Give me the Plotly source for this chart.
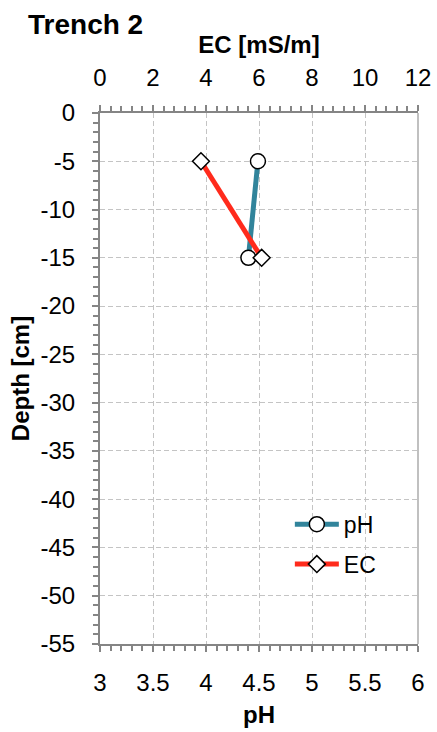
import plotly.graph_objects as go

depth = [-5, -15]
ph = [4.49, 4.40]
ec = [3.81, 6.10]

ph_ticks = [3, 3.5, 4, 4.5, 5, 5.5, 6]
ec_ticks = [0, 2, 4, 6, 8, 10, 12]
depth_ticks = list(range(0, -60, -5))

FONT = "Liberation Sans, Arial, sans-serif"
AX = "#858585"
GRID = "#c4c4c4"

fig = go.Figure()
fig.add_trace(go.Scatter(
    x=ph, y=depth, name="pH", mode="lines+markers", xaxis="x", yaxis="y",
    line=dict(color="#31849B", width=5),
    marker=dict(symbol="circle", size=15, color="white", line=dict(color="black", width=1.5)),
    legendgroup="a",
))
fig.add_trace(go.Scatter(
    x=ec, y=depth, name="EC", mode="lines+markers", xaxis="x2", yaxis="y",
    line=dict(color="#FF2B1C", width=5),
    marker=dict(symbol="diamond", size=13, color="white", line=dict(color="black", width=1.5)),
    legendgroup="b",
))

tick_font = dict(size=24, family=FONT, color="black")
title_font = dict(size=24, family=FONT, color="black")

fig.update_layout(
    width=437, height=732,
    margin=dict(l=100, r=19, t=113, b=88),
    paper_bgcolor="white", plot_bgcolor="white",
    font=dict(family=FONT, size=23, color="black"),
    title=dict(text="<b>Trench 2</b>", x=28/437, xanchor="left", xref="container",
               y=1-24/732, yanchor="middle", yref="container",
               font=dict(size=28, family=FONT, color="black")),
    xaxis=dict(
        range=[3, 6], tickvals=ph_ticks, ticktext=[str(v) for v in ph_ticks],
        showline=True, linecolor=AX, linewidth=2, automargin=False,
        ticks="outside", ticklen=6, tickcolor=AX, tickwidth=2, tickfont=tick_font,
        minor=dict(dtick=0.1, ticks="outside", ticklen=5, tickcolor=AX, tickwidth=2, showgrid=False),
        showgrid=True, gridcolor=GRID, griddash="5px,3px", gridwidth=1,
        zeroline=False, ticklabelstandoff=10,
        title=dict(text="<b>pH</b>", font=title_font, standoff=11),
    ),
    xaxis2=dict(
        range=[0, 12], tickvals=ec_ticks, ticktext=[str(v) for v in ec_ticks],
        overlaying="x", side="top", anchor="y", automargin=False,
        showline=True, linecolor=AX, linewidth=2,
        ticks="outside", ticklen=6, tickcolor=AX, tickwidth=2, tickfont=tick_font,
        minor=dict(dtick=0.4, ticks="outside", ticklen=5, tickcolor=AX, tickwidth=2, showgrid=False),
        showgrid=False, zeroline=False, ticklabelstandoff=9,
        title=dict(text="<b>EC [mS/m]</b>", font=title_font, standoff=4),
    ),
    yaxis=dict(
        range=[-55, 0], tickvals=depth_ticks, ticktext=[str(v) for v in depth_ticks],
        showline=True, linecolor=AX, linewidth=2, automargin=False,
        ticks="outside", ticklen=6, tickcolor=AX, tickwidth=2, tickfont=tick_font,
        minor=dict(dtick=1, ticks="outside", ticklen=5, tickcolor=AX, tickwidth=2, showgrid=False),
        showgrid=True, gridcolor=GRID, griddash="5px,3px", gridwidth=1,
        zeroline=False, ticklabelstandoff=12,
        title=dict(text="<b>Depth [cm]</b>", font=title_font, standoff=4),
    ),
    legend=dict(
        x=0.597, y=0.266, xanchor="left", yanchor="top",
        bgcolor="rgba(0,0,0,0)", font=dict(size=23, family=FONT, color="black"),
        traceorder="grouped", tracegroupgap=7, itemwidth=44,
    ),
    showlegend=True,
)
fig.add_shape(type="line", xref="paper", yref="paper", x0=1, x1=1, y0=0, y1=1,
              line=dict(color="#c0c0c0", width=2))

fig.write_html("out.html", config={"displayModeBar": False},
               post_script="document.body.style.margin='0';document.body.style.overflow='hidden';")
